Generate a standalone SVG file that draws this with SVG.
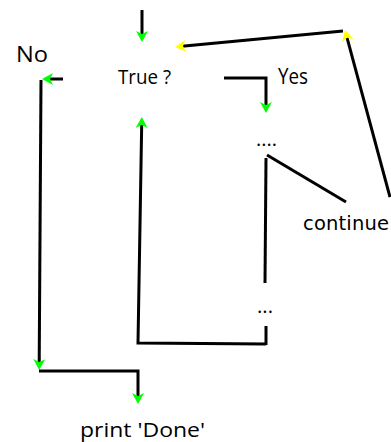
<svg xmlns="http://www.w3.org/2000/svg" width="391" height="442" viewBox="0 0 391 442">
<style>
.ln{fill:none;stroke:#000;stroke-width:3;stroke-linejoin:miter}
.g{marker-end:url(#ag)}
.y{marker-end:url(#ay)}
.t{font-family:"Open Sans",Lato,sans-serif;fill:#000}
.c{font-family:"DejaVu Sans",sans-serif;fill:#000}
</style>
<defs>
<marker id="ag" viewBox="0 0 11 12" refX="4" refY="6" markerWidth="11" markerHeight="12" markerUnits="userSpaceOnUse" orient="auto">
<path d="M0,0 L11,6 L0,12 L3,6 z" fill="#00ff00"/>
</marker>
<marker id="ay" viewBox="0 0 11 12" refX="4" refY="6" markerWidth="11" markerHeight="12" markerUnits="userSpaceOnUse" orient="auto">
<path d="M0,0 L11,6 L0,12 L3,6 z" fill="#ffff00"/>
</marker>
</defs>
<rect width="391" height="442" fill="#fff"/>
<g id="connectors">
<path class="ln g" d="M142,10 L142,35"/>
<path class="ln y" d="M390,197 L346.8,36.8"/>
<path class="ln y" d="M343,31 L182,46.3"/>
<path class="ln g" d="M63,79 L49,79"/>
<path class="ln g" d="M41,80 L39.2,363"/>
<path class="ln g" d="M39,371 L138,371 L138,397"/>
<path class="ln g" d="M224,78 L266,78 L266,106"/>
<path class="ln" d="M267,155 L346,202"/>
<path class="ln" d="M266,158 L265,283"/>
<path class="ln" d="M266,326 L266,345"/>
<path class="ln g" d="M266,344 L138,343 L141.7,124"/>
</g>
<g id="no"><text class="t" x="16" y="62" font-size="21.5" textLength="32" lengthAdjust="spacingAndGlyphs">No</text></g>
<g id="decision"><text class="t" x="118" y="84" font-size="19.5" textLength="53" lengthAdjust="spacingAndGlyphs">True ?</text></g>
<g id="yes"><text class="t" x="278" y="84" font-size="21" textLength="30" lengthAdjust="spacingAndGlyphs">Yes</text></g>
<g id="body-top"><text class="t" x="256" y="146" font-size="20" textLength="21" lengthAdjust="spacingAndGlyphs">....</text></g>
<g id="continue"><text class="c" x="303" y="230" font-size="19.5" textLength="86">continue</text></g>
<g id="body-bottom"><text class="t" x="257" y="313" font-size="20" textLength="16" lengthAdjust="spacingAndGlyphs">...</text></g>
<g id="done"><text class="t" x="80" y="437" font-size="20" textLength="125" lengthAdjust="spacingAndGlyphs">print 'Done'</text></g>
</svg>
